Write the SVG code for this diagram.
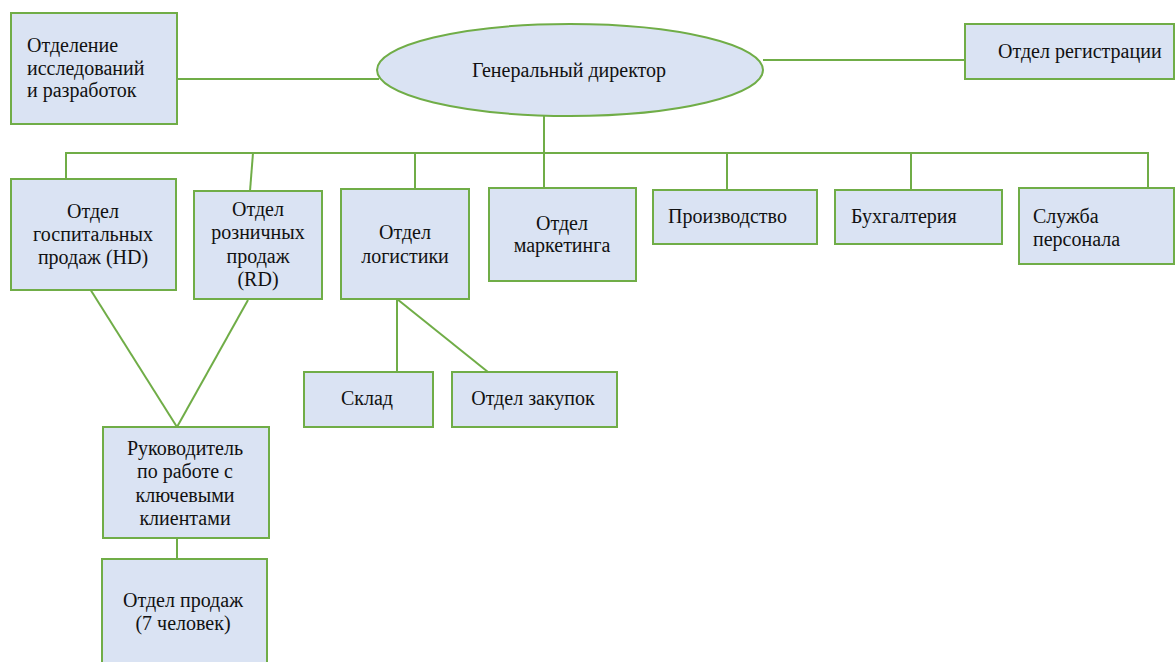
<svg xmlns="http://www.w3.org/2000/svg" width="1176" height="662" viewBox="0 0 1176 662">
<style>
.box{fill:#dae3f3;stroke:#70ad47;stroke-width:2}
.ln{fill:none;stroke:#70ad47;stroke-width:2}
text{font-family:"Liberation Serif","Times New Roman",serif;font-size:20px;fill:#111}
.c{text-anchor:middle}
</style>
<rect width="1176" height="662" fill="#fff"/>
<g id="connectors">
<line class="ln" x1="177" y1="79" x2="379" y2="79"/>
<line class="ln" x1="763" y1="60" x2="965" y2="60"/>
<line class="ln" x1="544" y1="116" x2="544" y2="153"/>
<polyline class="ln" points="66,188 66,153 1148,153 1148,192"/>
<line class="ln" x1="253" y1="153" x2="250" y2="191"/>
<line class="ln" x1="415" y1="153" x2="415" y2="189"/>
<line class="ln" x1="544" y1="153" x2="544" y2="188"/>
<line class="ln" x1="727" y1="153" x2="727" y2="190"/>
<line class="ln" x1="911" y1="153" x2="911" y2="190"/>
<line class="ln" x1="85" y1="281" x2="177" y2="427"/>
<line class="ln" x1="248" y1="300" x2="177" y2="427"/>
<line class="ln" x1="397" y1="299" x2="397" y2="372"/>
<line class="ln" x1="397" y1="299" x2="488" y2="372"/>
<line class="ln" x1="177" y1="538" x2="177" y2="559"/>
</g>
<g id="rd">
<rect class="box" x="11" y="13" width="166" height="111"/>
<text x="27" y="52">Отделение</text>
<text x="27" y="75">исследований</text>
<text x="27" y="97">и разработок</text>
</g>
<g id="ceo">
<ellipse class="box" cx="570" cy="70" rx="193" ry="46"/>
<text class="c" x="569" y="77">Генеральный директор</text>
</g>
<g id="reg">
<rect class="box" x="965" y="24" width="209" height="55"/>
<text x="998" y="58">Отдел регистрации</text>
</g>
<g id="hd">
<rect class="box" x="11" y="179" width="165" height="111"/>
<text class="c" x="93" y="218">Отдел</text>
<text class="c" x="93" y="241">госпитальных</text>
<text class="c" x="93" y="264">продаж (HD)</text>
</g>
<g id="rdsales">
<rect class="box" x="194" y="191" width="128" height="108"/>
<text class="c" x="258" y="216">Отдел</text>
<text class="c" x="258" y="239">розничных</text>
<text class="c" x="258" y="263">продаж</text>
<text class="c" x="258" y="286">(RD)</text>
</g>
<g id="logistics">
<rect class="box" x="341" y="189" width="128" height="110"/>
<text class="c" x="405" y="239">Отдел</text>
<text class="c" x="405" y="263">логистики</text>
</g>
<g id="marketing">
<rect class="box" x="489" y="188" width="147" height="93"/>
<text class="c" x="562" y="230">Отдел</text>
<text class="c" x="562" y="252">маркетинга</text>
</g>
<g id="production">
<rect class="box" x="653" y="190" width="164" height="54"/>
<text x="668" y="223">Производство</text>
</g>
<g id="accounting">
<rect class="box" x="835" y="190" width="167" height="54"/>
<text x="851" y="223">Бухгалтерия</text>
</g>
<g id="hr">
<rect class="box" x="1019" y="188" width="155" height="76"/>
<text x="1033" y="223">Служба</text>
<text x="1033" y="246">персонала</text>
</g>
<g id="warehouse">
<rect class="box" x="304" y="372" width="129" height="55"/>
<text class="c" x="367" y="405">Склад</text>
</g>
<g id="purchasing">
<rect class="box" x="452" y="372" width="165" height="55"/>
<text class="c" x="533" y="405">Отдел закупок</text>
</g>
<g id="kam">
<rect class="box" x="103" y="427" width="166" height="111"/>
<text class="c" x="185" y="455">Руководитель</text>
<text class="c" x="185" y="478">по работе с</text>
<text class="c" x="185" y="502">ключевыми</text>
<text class="c" x="185" y="525">клиентами</text>
</g>
<g id="sales">
<rect class="box" x="102" y="559" width="165" height="110"/>
<text class="c" x="183" y="607">Отдел продаж</text>
<text class="c" x="183" y="630">(7 человек)</text>
</g>
</svg>
